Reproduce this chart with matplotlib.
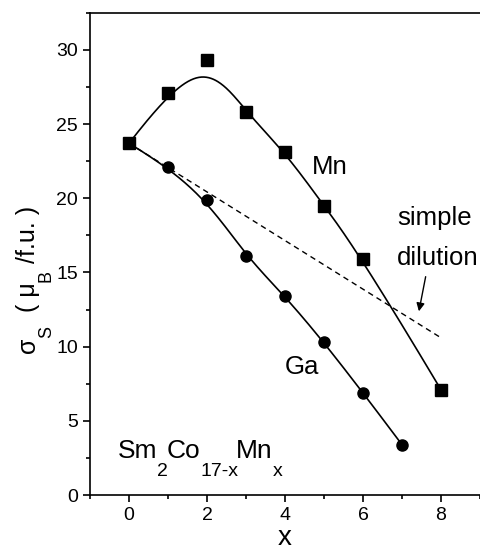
import numpy as np
import matplotlib
matplotlib.use("Agg")
import matplotlib.pyplot as plt
from matplotlib.ticker import MultipleLocator
from matplotlib.transforms import IdentityTransform

plt.rcParams["font.family"] = ["Liberation Sans", "DejaVu Sans"]

# data
x_mn = [0, 1, 2, 3, 4, 5, 6, 8]
s_mn = [23.7, 27.1, 29.3, 25.8, 23.1, 19.5, 15.9, 7.1]
x_ga = [0, 1, 2, 3, 4, 5, 6, 7]
s_ga = [23.7, 22.1, 19.9, 16.1, 13.4, 10.3, 6.9, 3.4]
x_dil = [0, 8]
s_dil = [23.7, 10.6]


def bspline(xs, ys, n=300):
    # clamped cubic B-spline using the points as control points
    P = np.column_stack([xs, ys]).astype(float)
    m = len(P)
    k = 3
    knots = np.concatenate([[0] * k, np.arange(m - k + 1), [m - k] * k]).astype(float)
    t = np.linspace(0, m - k, n)
    t[-1] -= 1e-9

    def basis(i, p, t):
        if p == 0:
            return ((knots[i] <= t) & (t < knots[i + 1])).astype(float)
        out = np.zeros_like(t)
        d1 = knots[i + p] - knots[i]
        d2 = knots[i + p + 1] - knots[i + 1]
        if d1 > 0:
            out += (t - knots[i]) / d1 * basis(i, p - 1, t)
        if d2 > 0:
            out += (knots[i + p + 1] - t) / d2 * basis(i + 1, p - 1, t)
        return out

    B = np.array([basis(i, k, t) for i in range(m)])
    C = B.T @ P
    return C[:, 0], C[:, 1]


def rich_text(fig, px, py, pieces, size, subsize, drop, vertical=False):
    # pieces: (text, is_subscript); px, py in pixels from bottom-left
    r = fig.canvas.get_renderer()
    for txt, sub in pieces:
        fs = subsize if sub else size
        if vertical:
            t = fig.text(px + (drop if sub else 0), py, txt, transform=IdentityTransform(),
                         fontsize=fs, rotation=90, rotation_mode="anchor",
                         ha="left", va="baseline")
            py += t.get_window_extent(r).height
        else:
            t = fig.text(px, py - (drop if sub else 0), txt, transform=IdentityTransform(),
                         fontsize=fs, ha="left", va="baseline")
            px += t.get_window_extent(r).width - (2 if sub else 0)


fig = plt.figure(figsize=(4.8, 5.52), dpi=100)
ax = fig.add_axes([0.1875, 0.103, 0.8125, 0.874])

cx, cy = bspline(x_mn, s_mn)
ax.plot(cx, cy, color="black", lw=1.2)
ax.plot(x_mn, s_mn, "s", color="black", ms=8)

gx, gy = bspline(x_ga, s_ga)
ax.plot(gx, gy, color="black", lw=1.2)
ax.plot(x_ga, s_ga, "o", color="black", ms=8)

ax.plot(x_dil, s_dil, color="black", lw=1.0, ls=(0, (4, 3)))

ax.text(5.15, 22.1, "Mn", fontsize=18.5, ha="center", va="center")
ax.text(4.43, 8.6, "Ga", fontsize=18.5, ha="center", va="center")
ax.text(6.88, 18.68, "simple", fontsize=18.5, ha="left", va="center")
ax.text(6.88, 15.98, "dilution", fontsize=18.5, ha="left", va="center")
ax.annotate("", xy=(7.42, 12.2), xytext=(7.62, 14.9),
            arrowprops=dict(arrowstyle="-|>", color="black", lw=1.0,
                            mutation_scale=12))

ax.set_xlim(-1, 9)
ax.set_ylim(0, 32.5)
ax.xaxis.set_major_locator(MultipleLocator(2))
ax.xaxis.set_minor_locator(MultipleLocator(1))
ax.yaxis.set_major_locator(MultipleLocator(5))
ax.yaxis.set_minor_locator(MultipleLocator(2.5))
ax.tick_params(which="both", direction="out", labelsize=14, width=1.2)
ax.tick_params(which="major", length=5)
ax.tick_params(which="minor", length=3)
ax.spines["right"].set_visible(False)
for s in ["left", "bottom", "top"]:
    ax.spines[s].set_linewidth(1.2)

ax.set_xlabel("x", fontsize=20, labelpad=1)

# Sm2Co17-xMnx inside the plot
rich_text(fig, 118, 94, [("Sm", False), ("2", True), ("Co", False),
                         ("17-x", True), ("Mn", False), ("x", True)],
          19, 14, 18)

# y axis label
rich_text(fig, 35, 199, [("σ", False), ("S", True), ("  ( μ", False),
                         ("B", True), (" /f.u. )", False)],
          18, 13, 16, vertical=True)

fig.savefig("out.png", dpi=100)
